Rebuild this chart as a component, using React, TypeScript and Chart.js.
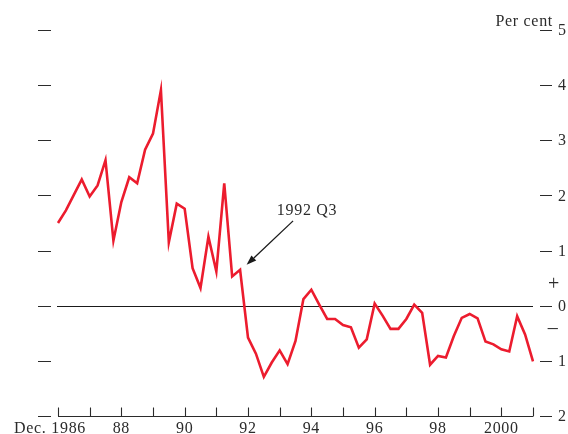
import React, { useEffect, useRef } from "react";
import { Chart, registerables } from "chart.js";

Chart.register(...registerables);

// Quarterly observations from 1986 Q4 to 2001 Q4
const quarterLabels: string[] = [];
for (let i = 0; i < 61; i++) {
  const q = ((3 + i) % 4) + 1;
  const y = 1986 + Math.floor((3 + i) / 4);
  quarterLabels.push(`${y} Q${q}`);
}

// Per cent values
const growth = [
  1.5, 1.73, 2.01, 2.29, 1.98, 2.18, 2.64, 1.18, 1.88, 2.33,
  2.22, 2.83, 3.12, 3.91, 1.15, 1.85, 1.76, 0.68, 0.32, 1.25,
  0.62, 2.22, 0.53, 0.65, -0.58, -0.87, -1.29, -1.03, -0.81, -1.06,
  -0.64, 0.12, 0.29, 0.02, -0.24, -0.24, -0.35, -0.39, -0.76, -0.61,
  0.04, -0.18, -0.42, -0.42, -0.24, 0.02, -0.13, -1.07, -0.91, -0.94,
  -0.55, -0.22, -0.15, -0.23, -0.65, -0.7, -0.79, -0.83, -0.19, -0.52,
  -1.01,
];

// Year ticks (every fourth quarter, Dec of each year)
const xTickIndex = [0, 4, 8, 12, 16, 20, 24, 28, 32, 36, 40, 44, 48, 52, 56, 60];
const xTickText = ["Dec. 1986", "", "88", "", "90", "", "92", "", "94", "", "96", "", "98", "", "2000", ""];

const yTickValues = [5, 4, 3, 2, 1, 0, -1, -2];
const yTickText = ["5", "4", "3", "2", "1", "0", "1", "2"];

const annotationIndex = 23;
const annotationText = "1992 Q3";

const INK = "#2b2b2b";
const RED = "rgb(236, 28, 46)";
const FONT = "16px 'Liberation Serif', 'Times New Roman', serif";

const decorPlugin = {
  id: "decor",
  beforeDatasetsDraw(chart: any) {
    const { ctx, scales, chartArea } = chart;
    const y0 = scales.y.getPixelForValue(0);
    ctx.save();
    ctx.strokeStyle = "#1a1a1a";
    ctx.lineWidth = 1;
    ctx.beginPath();
    ctx.moveTo(chartArea.left - 1, Math.round(y0) + 0.5);
    ctx.lineTo(chartArea.right, Math.round(y0) + 0.5);
    ctx.stroke();
    ctx.restore();
  },
  afterDraw(chart: any) {
    const { ctx, scales, chartArea } = chart;
    const xs = scales.x;
    const ys = scales.y;
    ctx.save();
    ctx.strokeStyle = INK;
    ctx.fillStyle = INK;
    ctx.font = FONT;
    try { (ctx as any).letterSpacing = "0.7px"; } catch (e) {}

    // x axis line + upward ticks
    const axisY = Math.round(chartArea.bottom) + 0.5;
    ctx.lineWidth = 1.1;
    ctx.beginPath();
    ctx.moveTo(chartArea.left, axisY);
    ctx.lineTo(chartArea.right, axisY);
    xTickIndex.forEach((idx) => {
      const px = Math.round(xs.getPixelForValue(idx)) + 0.5;
      ctx.moveTo(px, axisY);
      ctx.lineTo(px, axisY - 9);
    });
    ctx.stroke();

    // x labels
    ctx.textBaseline = "middle";
    ctx.textAlign = "center";
    xTickIndex.forEach((idx, k) => {
      const t = xTickText[k];
      if (!t) return;
      const px = xs.getPixelForValue(idx);
      const shift = t.indexOf(" ") >= 0 ? -8 : 0;
      ctx.fillText(t, px + shift, axisY + 12);
    });

    // y dashes on both sides and right labels
    ctx.lineWidth = 1.2;
    ctx.beginPath();
    yTickValues.forEach((v) => {
      const py = Math.round(ys.getPixelForValue(v)) + 0.5;
      ctx.moveTo(38, py);
      ctx.lineTo(51, py);
      ctx.moveTo(chartArea.right + 7, py);
      ctx.lineTo(chartArea.right + 19, py);
    });
    ctx.stroke();
    ctx.textAlign = "left";
    yTickValues.forEach((v, k) => {
      const py = ys.getPixelForValue(v);
      ctx.fillText(yTickText[k], chartArea.right + 25, py + 1);
    });

    // plus / minus signs
    ctx.textAlign = "center";
    ctx.font = "20px 'Liberation Serif', serif";
    ctx.fillText("+", chartArea.right + 21, ys.getPixelForValue(0.4) + 1);
    ctx.fillText("\u2013", chartArea.right + 20, ys.getPixelForValue(-0.42));

    // Per cent
    ctx.font = FONT;
    ctx.textAlign = "right";
    ctx.textBaseline = "alphabetic";
    ctx.fillText("Per cent", chartArea.right + 20, 26);

    // annotation
    const ax = xs.getPixelForValue(annotationIndex);
    const ay = ys.getPixelForValue(growth[annotationIndex]);
    const tipX = ax + 6.5;
    const tipY = ay - 5;
    const tailX = ax + 53;
    const tailY = ay - 49;
    ctx.textAlign = "center";
    ctx.textBaseline = "middle";
    ctx.fillText(annotationText, ax + 67, ay - 59);
    ctx.strokeStyle = "#1a1a1a";
    ctx.fillStyle = "#1a1a1a";
    ctx.lineWidth = 1.3;
    const ang = Math.atan2(tipY - tailY, tipX - tailX);
    const headLen = 10;
    const headW = 3.5;
    const bx = tipX - headLen * Math.cos(ang);
    const by = tipY - headLen * Math.sin(ang);
    ctx.beginPath();
    ctx.moveTo(tailX, tailY);
    ctx.lineTo(bx, by);
    ctx.stroke();
    ctx.beginPath();
    ctx.moveTo(tipX, tipY);
    ctx.lineTo(bx + headW * Math.sin(ang), by - headW * Math.cos(ang));
    ctx.lineTo(bx - headW * Math.sin(ang), by + headW * Math.cos(ang));
    ctx.closePath();
    ctx.fill();

    ctx.restore();
  },
};

export default function App() {
  const ref = useRef<HTMLCanvasElement | null>(null);
  useEffect(() => {
    if (!ref.current) return;
    const chart = new Chart(ref.current, {
      type: "line",
      data: {
        labels: quarterLabels,
        datasets: [
          {
            data: growth,
            borderColor: RED,
            borderWidth: 2.6,
            pointRadius: 0,
            tension: 0,
            fill: false,
            borderJoinStyle: "miter",
          } as any,
        ],
      },
      options: {
        responsive: false,
        animation: false,
        layout: { padding: { left: 58, right: 35, top: 30, bottom: 18 } },
        scales: {
          x: { type: "category", display: false, offset: false },
          y: { display: false, min: -2, max: 5 },
        },
        plugins: { legend: { display: false }, tooltip: { enabled: false } },
      },
      plugins: [decorPlugin],
    });
    return () => chart.destroy();
  }, []);
  return (
    <div style={{ position: "fixed", left: 0, top: 0, width: 568, height: 434, background: "#fff" }}>
      <canvas ref={ref} width={568} height={434} style={{ display: "block" }} />
    </div>
  );
}
